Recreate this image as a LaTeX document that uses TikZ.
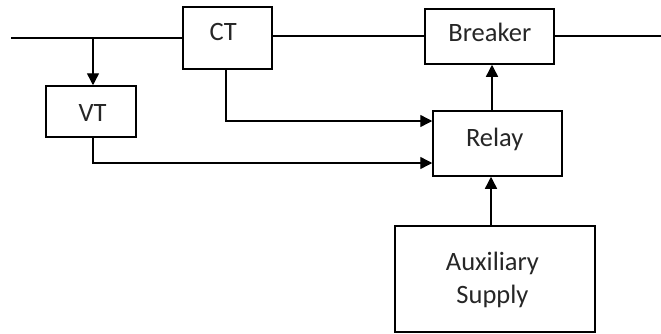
\documentclass[tikz,border=0pt]{standalone}
\usepackage{fontspec}
\setmainfont{Carlito}
\usetikzlibrary{arrows.meta}
\begin{document}
\begin{tikzpicture}[x=1pt,y=-1pt,
  box/.style={draw=black,line width=1.5pt,inner sep=0pt},
  lbl/.style={anchor=base,inner sep=0pt,text=black!85,font=\fontsize{26.5}{34}\selectfont},
  wire/.style={draw=black,line width=1.4pt},
  sig/.style={wire,-{Triangle[length=12pt,width=12pt]}}]
\useasboundingbox (0,0) rectangle (661,333);

% blocks
\node[box,minimum width=89pt,minimum height=62pt]  (ct)    at (227.5,38)  {};
\node[box,minimum width=129pt,minimum height=55pt] (brk)   at (489.5,36.5) {};
\node[box,minimum width=90pt,minimum height=51pt]  (vt)    at (91,111.5)  {};
\node[box,minimum width=129pt,minimum height=65pt] (relay) at (497.5,143.5) {};
\node[box,minimum width=200pt,minimum height=106pt] (aux)  at (495,279)   {};

% block labels
\node[lbl] (ctl)    at (223.3,40.2)  {CT};
\node[lbl] (brkl)   at (489.8,41.8)  {Breaker};
\node[lbl] (vtl)    at (92.5,121.8)  {VT};
\node[lbl] (relayl) at (494.7,146.8) {Relay};
\node[lbl] (auxl)   at (492.5,270.2) {Auxiliary};
\node[lbl] (supl)   at (492.5,303.8) {Supply};

% power line
\coordinate (lineL) at (11,38);
\coordinate (lineR) at (661,36);
\coordinate (tap)   at (93,38);
\draw[wire] (lineL) -- (ct.west);
\draw[wire] (ct.east |- lineR) -- (brk.west |- lineR);
\draw[wire] (brk.east |- lineR) -- (lineR);

% voltage tap to VT
\draw[sig] (tap) -- (tap |- vt.north);

% instrument transformer signals into the relay
\draw[sig] ([xshift=-1.5pt]ct.south) |- ([yshift=22.5pt]relay.west);
\draw[sig] ([xshift=2pt]vt.south) |- ([yshift=-19.5pt]relay.west);

% relay trip to breaker, auxiliary supply to relay
\draw[sig] ([xshift=-5.5pt]relay.north) -- ([xshift=-5.5pt]relay.north |- brk.south);
\draw[sig] ([xshift=-4pt]aux.north) -- ([xshift=-4pt]aux.north |- relay.south);
\end{tikzpicture}
\end{document}
